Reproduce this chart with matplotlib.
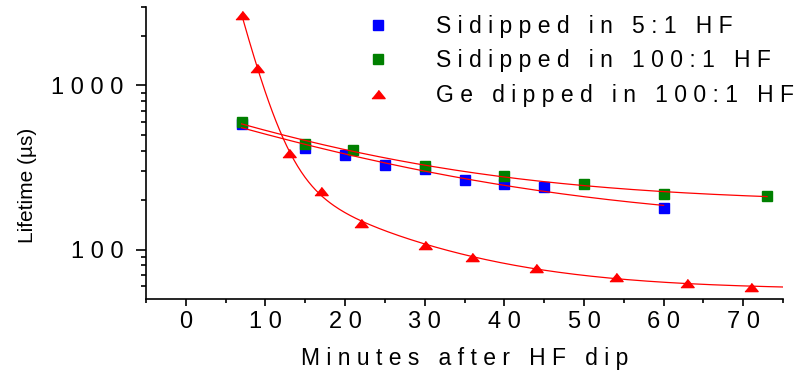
import matplotlib
matplotlib.use("Agg")
import matplotlib.pyplot as plt
import numpy as np
from matplotlib.ticker import FixedLocator, FuncFormatter, NullFormatter

plt.rcParams["font.family"] = ["Liberation Sans", "DejaVu Sans"]

# data (minutes after dip, lifetime in us)
si5_x = [7, 15, 20, 25, 30, 35, 40, 45, 60]
si5_y = [580, 418, 375, 327, 311, 266, 251, 239, 180]

si100_x = [7, 15, 21, 30, 40, 50, 60, 73]
si100_y = [597, 442, 403, 324, 282, 251, 218, 212]

ge_x = [7, 9, 13, 17, 22, 30, 36, 44, 54, 63, 71]
ge_y = [2700, 1280, 390, 227, 145, 106, 90, 77.6, 67.7, 62.2, 59]

labels = ["Sidipped in 5:1 HF", "Sidipped in 100:1 HF", "Ge dipped in 100:1 HF"]
x_ticks = [0, 10, 20, 30, 40, 50, 60, 70]
y_ticks = [100, 1000]


def spaced(s):
    # the original figure draws every label with wide letter spacing
    return " ".join(s)


def fit_exp(x, y, taus):
    # y = sum(A_i exp(-x/t_i)) + C, least squares on relative error, grid over t
    x = np.asarray(x, float)
    y = np.asarray(y, float)
    best = None
    for ts in taus:
        cols = [np.exp(-x / t) for t in ts] + [np.ones_like(x)]
        m = np.column_stack(cols) / y[:, None]
        coef, *_ = np.linalg.lstsq(m, np.ones_like(x), rcond=None)
        err = np.sum((m @ coef - 1) ** 2)
        if best is None or err < best[0]:
            best = (err, ts, coef)
    _, ts, coef = best

    def f(xs):
        out = np.full_like(xs, coef[-1], dtype=float)
        for t, a in zip(ts, coef[:-1]):
            out += a * np.exp(-xs / t)
        return out
    return f


one_tau = [(t,) for t in np.linspace(2, 300, 1200)]
two_tau = [(t1, t2) for t1 in np.linspace(0.5, 8, 60) for t2 in np.linspace(5, 60, 60)]

f_si5 = fit_exp(si5_x, si5_y, one_tau)
f_si100 = fit_exp(si100_x, si100_y, one_tau)
f_ge = fit_exp(ge_x, ge_y, two_tau)

fig = plt.figure(figsize=(8.05, 3.75), dpi=100)
ax = fig.add_axes([146 / 805, 1 - 299 / 375, (783 - 146) / 805, (299 - 7) / 375])

tri = [(-1, -0.62), (1, -0.62), (0, 0.62)]
ax.plot(si5_x, si5_y, "s", color="#0000FF", ms=7, mec="#0000FF", label=spaced(labels[0]))
ax.plot(si100_x, si100_y, "s", color="#008000", ms=7, mec="#008000", label=spaced(labels[1]))
ax.plot(ge_x, ge_y, ls="none", marker=tri, color="#FF0000", ms=9.5, label=spaced(labels[2]))

xs = np.linspace(si5_x[0], si5_x[-1], 200)
ax.plot(xs, f_si5(xs), color="#FF0000", lw=0.9)
xs = np.linspace(si100_x[0], si100_x[-1], 200)
ax.plot(xs, f_si100(xs), color="#FF0000", lw=0.9)
xs = np.linspace(ge_x[0], 75, 300)
ax.plot(xs, f_ge(xs), color="#FF0000", lw=0.9)

ax.set_yscale("log")
ax.set_xlim(-5, 75)
ax.set_ylim(50, 3000)

ax.spines["top"].set_visible(False)
ax.spines["right"].set_visible(False)
for s in ("left", "bottom"):
    ax.spines[s].set_linewidth(1.2)

ax.xaxis.set_major_locator(FixedLocator(x_ticks))
ax.xaxis.set_minor_locator(FixedLocator(np.arange(-5, 76, 10)))
ax.xaxis.set_major_formatter(FuncFormatter(lambda v, p: spaced(str(int(v)))))
ax.yaxis.set_major_locator(FixedLocator(y_ticks))
minor_y = [60, 70, 80, 90] + list(range(200, 1000, 100)) + [2000, 3000]
ax.yaxis.set_minor_locator(FixedLocator(minor_y))
ax.yaxis.set_major_formatter(FuncFormatter(lambda v, p: spaced(str(int(v)))))
ax.yaxis.set_minor_formatter(NullFormatter())

ax.tick_params(axis="x", which="major", length=5, width=1.2, labelsize=17, pad=4)
ax.tick_params(axis="x", which="minor", length=3, width=1.2)
ax.tick_params(axis="y", which="major", length=7, width=1.2, labelsize=17, pad=9)
ax.tick_params(axis="y", which="minor", length=3.6, width=1.2)

ax.set_xlabel(spaced("Minutes after HF dip"), fontsize=16.5, labelpad=10)
ax.set_ylabel("Lifetime (µs)", fontsize=15)
ax.yaxis.set_label_coords(-0.171, 0.39)

ax.legend(loc="upper left", bbox_to_anchor=(367 / 805, 1 - 15 / 375),
          bbox_transform=fig.transFigure, frameon=False, fontsize=16.5,
          numpoints=1, handlelength=1.0, handletextpad=2.03,
          borderpad=0, borderaxespad=0, labelspacing=0.5)

fig.savefig("out.png", dpi=100)
